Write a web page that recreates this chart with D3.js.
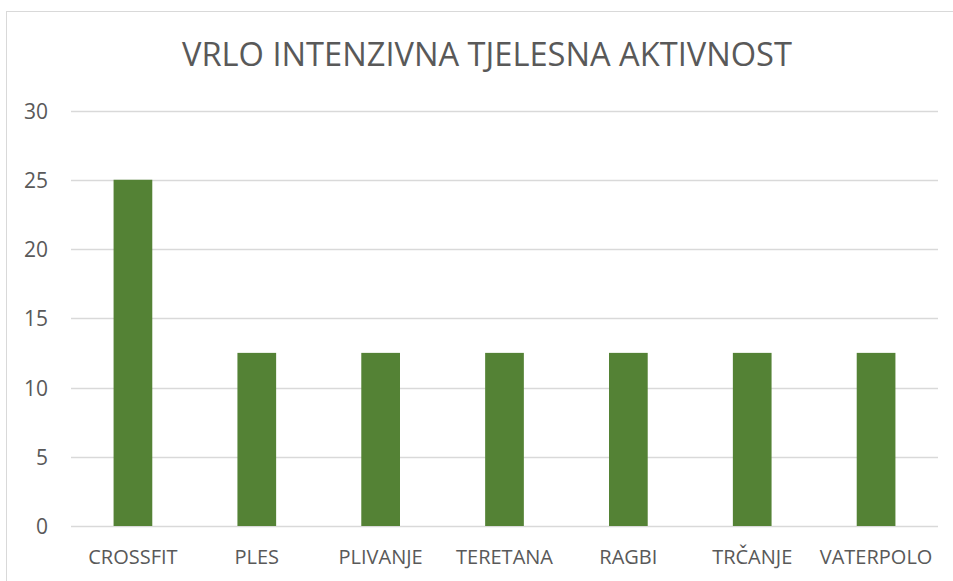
<!DOCTYPE html>
<html><head><meta charset="utf-8">
<script src="https://cdn.jsdelivr.net/npm/d3@7"></script>
<style>html,body{margin:0;padding:0;background:#fff;}svg{display:block;}</style>
</head><body>
<svg id="c" width="953" height="581"></svg>
<script>
const categories = ["CROSSFIT","PLES","PLIVANJE","TERETANA","RAGBI","TRČANJE","VATERPOLO"];
const values = [25,12.5,12.5,12.5,12.5,12.5,12.5];
const yTicks = [0,5,10,15,20,25,30];
const title = "VRLO INTENZIVNA TJELESNA AKTIVNOST";

const W=953,H=581;
const svg=d3.select("#c");
const font="'Open Sans', sans-serif";
svg.append("rect").attr("x",6.5).attr("y",11.5).attr("width",W).attr("height",H)
  .attr("fill","#fff").attr("stroke","#d9d9d9").attr("stroke-width",1);

const m={l:71,r:953-938,t:110.5,b:581-526};
const x=d3.scaleBand().domain(categories).range([m.l,W-m.r]).paddingInner(0.6875).paddingOuter(0.34375);
const y=d3.scaleLinear().domain([0,30]).range([526,110.5]);

const g=svg.append("g");
g.selectAll("line.grid").data(yTicks).join("line").attr("class","grid")
  .attr("x1",m.l).attr("x2",W-m.r).attr("y1",d=>Math.round(y(d))+0.5).attr("y2",d=>Math.round(y(d))+0.5)
  .attr("stroke","#d9d9d9").attr("stroke-width",1.5);

const yAxis=d3.axisLeft(y).tickValues(yTicks).tickSize(0).tickPadding(0);
const ya=svg.append("g").attr("transform","translate(48,0)").call(yAxis);
ya.select(".domain").remove();
ya.selectAll("text").attr("font-family",font).attr("font-size",21).attr("fill","#595959").attr("dy","0.36em");

g.selectAll("rect.bar").data(values).join("rect").attr("class","bar")
  .attr("x",(d,i)=>x(categories[i])).attr("width",x.bandwidth())
  .attr("y",d=>y(d)).attr("height",d=>y(0)-y(d)).attr("fill","#548235");

const xAxis=d3.axisBottom(x).tickSize(0).tickPadding(0);
const xa=svg.append("g").attr("transform","translate(0,564.3)").call(xAxis);
xa.select(".domain").remove();
xa.selectAll("text").attr("font-family",font).attr("font-size",20).attr("fill","#595959").attr("dy",0).attr("y",0);

const t=svg.append("text").attr("x",487).attr("y",66).attr("text-anchor","middle")
  .attr("font-family",font).attr("font-size",32).attr("fill","#595959").text(title);
const len=t.node().getComputedTextLength();
t.attr("font-size",32*610/len);
</script>
</body></html>
